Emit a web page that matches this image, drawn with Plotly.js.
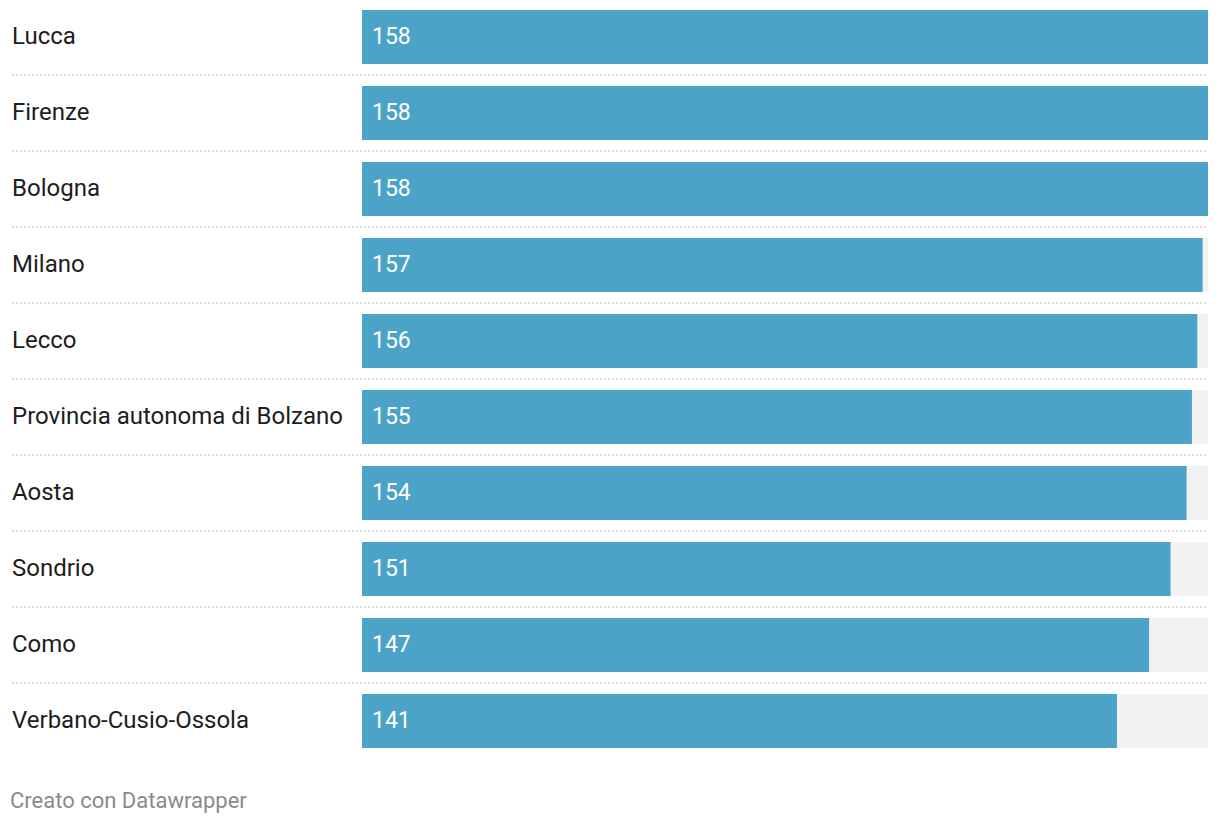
<!DOCTYPE html>
<html>
<head>
<meta charset="utf-8">
<script src="https://cdn.plot.ly/plotly-3.0.1.min.js"></script>
<style>
html,body{margin:0;padding:0;background:#fff;}
#chart{width:1220px;height:824px;}
</style>
</head>
<body>
<div id="chart"></div>
<script>
const categories = ["Lucca","Firenze","Bologna","Milano","Lecco","Provincia autonoma di Bolzano","Aosta","Sondrio","Como","Verbano-Cusio-Ossola"];
const values = [158,158,158,157,156,155,154,151,147,141];
const maxValue = 158;
const footer = "Creato con Datawrapper";

const W = 1220, H = 824;
const mL = 362, mR = 12, mT = 10, mB = 76;
const plotW = W - mL - mR;
const idx = categories.map((_, i) => i);
const barFrac = 54 / 76;
const half = barFrac / 2;

const traces = [
  {type:'bar', orientation:'h', y: idx, x: categories.map(() => maxValue), width: barFrac,
   marker:{color:'#f2f2f2'}, hoverinfo:'skip', showlegend:false},
  {type:'bar', orientation:'h', y: idx, x: values, width: barFrac,
   marker:{color:'#4ba3c7'}, hoverinfo:'skip', showlegend:false}
];

const leftPaper = (12 - mL) / plotW;
const labelPaper = (10 - mL) / plotW;
const annotations = [];
const shapes = [];
categories.forEach((c, i) => {
  annotations.push({x: labelPaper, xref:'paper', y: i, yref:'y', text: c, showarrow:false,
    xanchor:'left', yanchor:'middle', yshift:1, font:{family:'Roboto', size:24, color:'#1d1d1d'}});
  annotations.push({x: 0, xref:'x', y: i, yref:'y', text: String(Math.round(values[i])), showarrow:false,
    xanchor:'left', yanchor:'middle', xshift:8, yshift:1, font:{family:'Roboto', size:23, color:'#ffffff'}});
  if (i < categories.length - 1) {
    shapes.push({type:'line', xref:'paper', x0: leftPaper, x1: 1, yref:'y', y0: i + 0.5, y1: i + 0.5,
      line:{color:'#d0d0d0', width:1.5, dash:'2px,2px'}});
  }
});
annotations.push({x: (8 - mL) / plotW, xref:'paper', y: 1 - (800 - mT) / (H - mT - mB), yref:'paper',
  text: footer, showarrow:false, xanchor:'left', yanchor:'middle',
  font:{family:'Roboto', size:22, color:'#8a8a8a'}});

const layout = {
  width: W, height: H,
  margin:{l:mL, r:mR, t:mT, b:mB, pad:0},
  paper_bgcolor:'#ffffff', plot_bgcolor:'#ffffff',
  barmode:'overlay',
  xaxis:{range:[0, maxValue], visible:false, fixedrange:true},
  yaxis:{range:[categories.length - 1 + half, -half], visible:false, fixedrange:true},
  annotations, shapes,
  showlegend:false
};
Plotly.newPlot('chart', traces, layout, {displayModeBar:false, staticPlot:true});
</script>
</body>
</html>
